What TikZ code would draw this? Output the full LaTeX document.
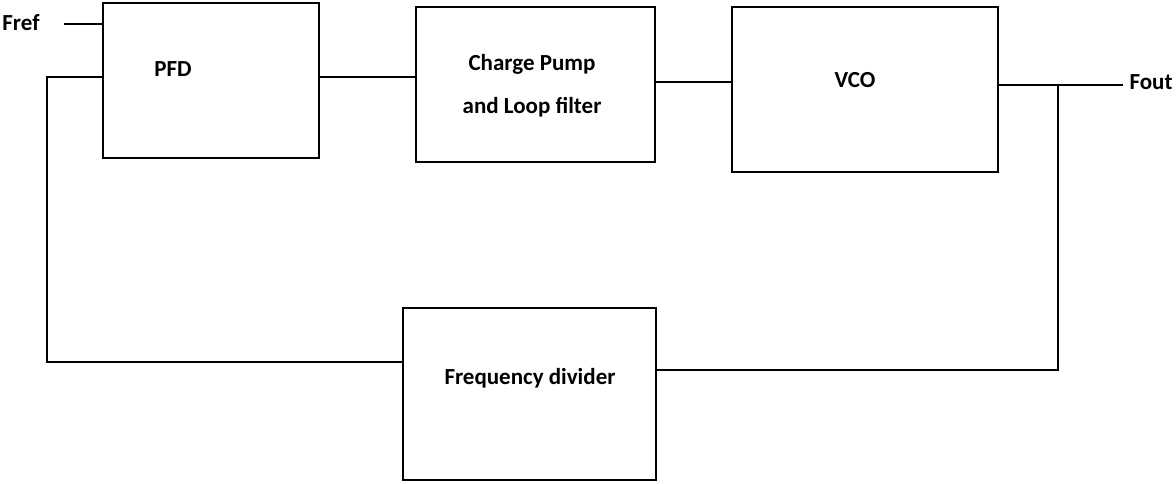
\documentclass[tikz,border=0pt]{standalone}
\usepackage{fontspec}
\setmainfont{Carlito}
\usetikzlibrary{positioning}

\tikzset{
  blk/.style={draw, line width=1.7pt, inner sep=0pt},
  lbl/.style={font=\fontsize{23}{43}\selectfont\bfseries, inner sep=0pt, align=center},
  wire/.style={line width=1.7pt}
}

\begin{document}
\begin{tikzpicture}[x=1pt, y=-1pt]
  \useasboundingbox (0,0) rectangle (1176,484);
  % blocks
  \node[blk, minimum width=216pt, minimum height=155pt] (pfd) at (211,80.5) {};
  \node[blk, minimum width=239pt, minimum height=155pt] (cp) at (535.5,84.5) {};
  \node[blk, minimum width=266pt, minimum height=165pt] (vco) at (865,89.5) {};
  \node[blk, minimum width=253pt, minimum height=172pt] (div) at (529.5,394) {};
  % texts
  \node[lbl] (pfdtxt) at (173,69) {PFD};
  \node[lbl] (cptxt) at (532,86) {Charge Pump\\and Loop filter};
  \node[lbl] (vcotxt) at (855,80) {VCO};
  \node[lbl] (divtxt) at (530,378) {Frequency divider};
  \node[lbl] (fref) at (21,23) {Fref};
  \node[lbl] (fout) at (1151,82) {Fout};
  % wiring
  \coordinate (frefpt) at (64,24);
  \coordinate (foutpt) at (1123,85);
  \coordinate (fbT) at (47,77);
  \coordinate (fbL) at (47,362);
  \coordinate (tap) at (1058,85);
  \coordinate (tapB) at (1058,370);
  \draw[wire] (frefpt) -- (frefpt -| pfd.west);
  \draw[wire] (pfd.east |- fbT) -- (cp.west |- fbT);
  \draw[wire] (cp.east |- 0,82) -- (vco.west |- 0,82);
  \draw[wire] (vco.east |- tap) -- (foutpt);
  \draw[wire] (tap) -- (tapB) -- (tapB -| div.east);
  \draw[wire] (div.west |- fbL) -- (fbL) -- (fbT) -- (fbT -| pfd.west);
\end{tikzpicture}
\end{document}
